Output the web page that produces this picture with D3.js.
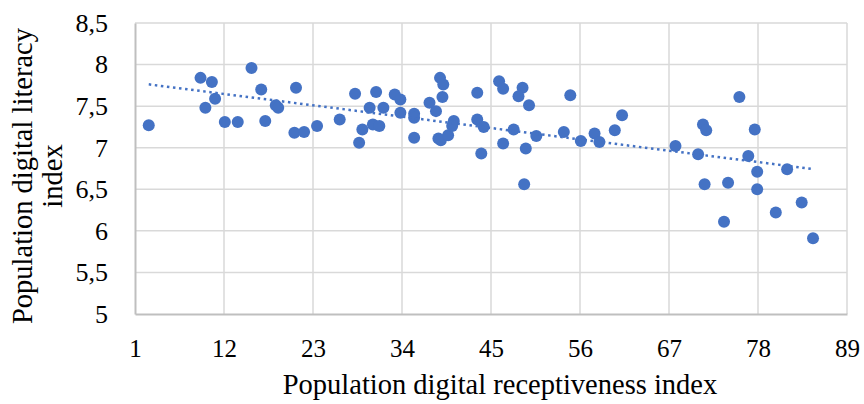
<!DOCTYPE html>
<html>
<head>
<meta charset="utf-8">
<script src="https://cdn.jsdelivr.net/npm/d3@7"></script>
<style>
  body { margin: 0; background: #fff; }
  svg text { font-family: "Liberation Serif", "Times New Roman", serif; fill: #000; }
</style>
</head>
<body>
<div id="chart"></div>
<script>
// receptiveness index (x) and literacy index (y)
const receptiveness = [2.7, 9.1, 10.5, 10.9, 9.7, 12.1, 13.7, 15.4, 16.6, 17.1, 18.4, 18.7, 20.9, 20.7, 21.9, 23.5,
  26.3, 28.2, 29.1, 28.7, 30.0, 30.4, 31.2, 30.8, 31.7, 33.1, 33.8, 33.8, 35.5, 35.5, 35.5, 37.4, 38.2, 38.7, 39.1,
  39.0, 38.5, 38.8, 39.7, 40.4, 40.2, 43.3, 43.3, 44.1, 43.8, 46.0, 46.5, 48.9, 48.4, 49.7, 47.8, 46.5, 49.3, 49.1,
  50.6, 54.8, 54.0, 56.1, 57.8, 58.4, 60.3, 61.2, 67.8, 71.2, 71.6, 70.6, 71.4, 74.3, 73.8, 75.7, 77.6, 76.8, 77.9,
  77.9, 81.6, 83.4, 80.2, 84.8];
const literacy = [7.27, 7.84, 7.79, 7.59, 7.48, 7.31, 7.31, 7.96, 7.70, 7.32, 7.51, 7.48, 7.72, 7.18, 7.19, 7.26,
  7.34, 7.65, 7.22, 7.06, 7.48, 7.28, 7.26, 7.67, 7.48, 7.64, 7.58, 7.42, 7.41, 7.36, 7.12, 7.54, 7.44, 7.84, 7.76,
  7.61, 7.11, 7.09, 7.15, 7.32, 7.26, 7.66, 7.34, 7.25, 6.93, 7.80, 7.71, 7.72, 7.62, 7.51, 7.22, 7.05, 6.99, 6.56,
  7.14, 7.63, 7.19, 7.08, 7.17, 7.07, 7.21, 7.39, 7.02, 7.28, 7.21, 6.92, 6.56, 6.58, 6.11, 7.61, 7.22, 6.90, 6.71,
  6.50, 6.74, 6.34, 6.22, 5.91];
const xTicks = [1, 12, 23, 34, 45, 56, 67, 78, 89];
const yTicks = [5, 5.5, 6, 6.5, 7, 7.5, 8, 8.5];

const width = 864, height = 404;
const margin = {left: 135, right: 17, top: 23, bottom: 90};

const svg = d3.select('#chart').append('svg').attr('width', width).attr('height', height);

const x = d3.scaleLinear().domain([1, 89]).range([margin.left, width - margin.right]);
const y = d3.scaleLinear().domain([5, 8.5]).range([height - margin.bottom, margin.top]);
const comma = d => String(d).replace('.', ',');

// gridlines
svg.append('g').selectAll('line.h').data(yTicks.slice(1)).enter().append('line')
  .attr('x1', x(1)).attr('x2', x(89)).attr('y1', d => y(d)).attr('y2', d => y(d))
  .attr('stroke', '#d9d9d9').attr('stroke-width', 1.5);
svg.append('g').selectAll('line.v').data(xTicks.slice(1)).enter().append('line')
  .attr('y1', y(5)).attr('y2', y(8.5)).attr('x1', d => x(d)).attr('x2', d => x(d))
  .attr('stroke', '#d9d9d9').attr('stroke-width', 1.5);

// axes
const xAxis = svg.append('g').attr('transform', `translate(0,${y(5)})`)
  .call(d3.axisBottom(x).tickValues(xTicks).tickSize(0).tickPadding(25).tickFormat(d => d));
xAxis.select('.domain').attr('stroke', '#bfbfbf').attr('stroke-width', 2);
xAxis.selectAll('text').attr('font-size', 25).attr('font-family', '"Liberation Serif", serif');

const yAxis = svg.append('g').attr('transform', `translate(${x(1)},0)`)
  .call(d3.axisLeft(y).tickValues(yTicks).tickSize(0).tickPadding(27).tickFormat(comma));
yAxis.select('.domain').attr('stroke', '#bfbfbf').attr('stroke-width', 2);
yAxis.selectAll('text').attr('font-size', 26).attr('font-family', '"Liberation Serif", serif');

// points
const pts = receptiveness.map((v, i) => ({x: v, y: literacy[i]}));
svg.append('g').selectAll('circle').data(pts).enter().append('circle')
  .attr('cx', d => x(d.x)).attr('cy', d => y(d.y)).attr('r', 6)
  .attr('fill', '#4472c4');

// linear trendline
const mx = d3.mean(pts, d => d.x), my = d3.mean(pts, d => d.y);
const slope = d3.sum(pts, d => (d.x - mx) * (d.y - my)) / d3.sum(pts, d => (d.x - mx) ** 2);
const icpt = my - slope * mx;
const ext = d3.extent(pts, d => d.x);
svg.append('line')
  .attr('x1', x(ext[0])).attr('y1', y(icpt + slope * ext[0]))
  .attr('x2', x(ext[1])).attr('y2', y(icpt + slope * ext[1]))
  .attr('stroke', '#4472c4').attr('stroke-width', 2.5)
  .attr('stroke-dasharray', '2.5,3.6');

// titles
svg.append('text').attr('x', 500).attr('y', 394)
  .attr('text-anchor', 'middle').attr('font-size', 28.5)
  .text('Population digital receptiveness index');
const yt = svg.append('text').attr('transform', `translate(32,176) rotate(-90)`)
  .attr('text-anchor', 'middle').attr('font-size', 28.5);
yt.append('tspan').attr('x', 0).attr('dy', 0).text('Population digital literacy');
yt.append('tspan').attr('x', 0).attr('dy', 30).text('index');
</script>
</body>
</html>
